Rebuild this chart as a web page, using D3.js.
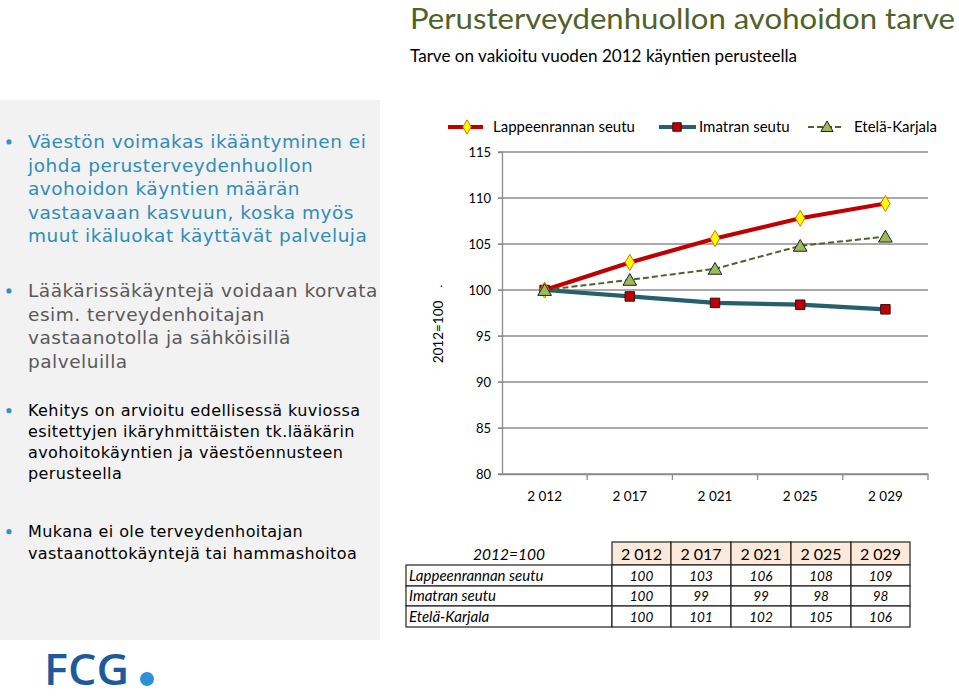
<!DOCTYPE html>
<html><head><meta charset="utf-8">
<script src="https://cdn.jsdelivr.net/npm/d3@7"></script>
<style>
html,body{margin:0;padding:0;background:#fff;}
svg{display:block;}
</style></head>
<body>
<svg id="c" width="959" height="697"></svg>
<script>
const categories = ["2 012", "2 017", "2 021", "2 025", "2 029"];
const lappeenranta = [100, 103.0, 105.6, 107.8, 109.4];
const imatra = [100, 99.3, 98.6, 98.4, 97.9];
const etelaKarjala = [100, 101.1, 102.3, 104.8, 105.8];
const seriesNames = ["Lappeenrannan seutu", "Imatran seutu", "Etelä-Karjala"];
const yTicks = [80, 85, 90, 95, 100, 105, 110, 115];
const yLabel = "2012=100";
const title = "Perusterveydenhuollon avohoidon tarve";
const subtitle = "Tarve on vakioitu vuoden 2012 käyntien perusteella";
const bullet1 = ["Väestön voimakas ikääntyminen ei", "johda perusterveydenhuollon", "avohoidon käyntien määrän", "vastaavaan kasvuun, koska myös", "muut ikäluokat käyttävät palveluja"];
const bullet2 = ["Lääkärissäkäyntejä voidaan korvata", "esim. terveydenhoitajan", "vastaanotolla ja sähköisillä", "palveluilla"];
const bullet3 = ["Kehitys on arvioitu edellisessä kuviossa", "esitettyjen ikäryhmittäisten tk.lääkärin", "avohoitokäyntien ja väestöennusteen", "perusteella"];
const bullet4 = ["Mukana ei ole terveydenhoitajan", "vastaanottokäyntejä tai hammashoitoa"];

const svg = d3.select("#c");
const CAL = "Lato, 'Open Sans', sans-serif";
const VER = "'DejaVu Sans', Verdana, sans-serif";

// Title
svg.append("text").attr("x", 410).attr("y", 29).attr("font-family", CAL).attr("font-size", 29)
  .attr("fill", "#4f6228").attr("textLength", 545).attr("lengthAdjust", "spacingAndGlyphs").text(title);
svg.append("text").attr("x", 410).attr("y", 62).attr("font-family", CAL).attr("font-size", 16.5)
  .attr("fill", "#000").attr("textLength", 387).attr("lengthAdjust", "spacingAndGlyphs").text(subtitle);

// Left panel
svg.append("rect").attr("x", 0).attr("y", 100).attr("width", 380).attr("height", 540).attr("fill", "#f2f2f2");
function bullet(lines, y0, lh, size, ls, color) {
  svg.append("circle").attr("cx", 9).attr("cy", y0 - size * 0.33).attr("r", 2.6).attr("fill", "#3a8fc4");
  svg.append("g").selectAll("text").data(lines).join("text")
    .attr("x", 28).attr("y", (d, i) => y0 + i * lh)
    .attr("font-family", VER).attr("font-size", size).attr("letter-spacing", ls).attr("fill", color).text(d => d);
}
bullet(bullet1, 148, 23.5, 18.5, 0.5, "#2f8db8");
bullet(bullet2, 297, 23.5, 18.5, 0.5, "#595959");
bullet(bullet3, 416, 21, 16, 0.4, "#000");
bullet(bullet4, 537, 21.5, 16, 0.4, "#000");

// FCG logo
svg.append("text").attr("x", 44).attr("y", 685).attr("font-family", "'Open Sans', sans-serif").attr("font-size", 44)
  .attr("font-weight", 600).attr("fill", "#1d5a9c").attr("textLength", 85).attr("lengthAdjust", "spacingAndGlyphs").text("FCG");
svg.append("circle").attr("cx", 147).attr("cy", 679).attr("r", 7).attr("fill", "#2b92d8");

// Chart
const x = d3.scaleBand().domain(categories).range([502, 928]);
const y = d3.scaleLinear().domain([80, 115]).range([474, 152]);
const g = svg.append("g");
g.append("g").selectAll("line").data(yTicks).join("line")
  .attr("x1", 498).attr("x2", 928).attr("y1", d => y(d)).attr("y2", d => y(d))
  .attr("stroke", "#8c8c8c").attr("stroke-width", 1.3);
const yAx = g.append("g").attr("transform", "translate(502,0)").call(d3.axisLeft(y).tickValues(yTicks).tickSize(4).tickPadding(7));
yAx.select(".domain").attr("stroke", "#8c8c8c").attr("stroke-width", 1.3);
yAx.selectAll(".tick line").attr("stroke", "#8c8c8c");
yAx.selectAll("text").attr("font-family", CAL).attr("font-size", 13).attr("fill", "#000");
const xAx = g.append("g").attr("transform", "translate(0,474)").call(d3.axisBottom(x).tickSize(0).tickPadding(17));
xAx.select(".domain").attr("stroke", "#8c8c8c").attr("stroke-width", 1.3);
xAx.selectAll("text").attr("font-family", CAL).attr("font-size", 13.5).attr("fill", "#000");
g.append("g").selectAll("line").data(categories.slice(1).concat(["end"])).join("line")
  .attr("x1", d => d === "end" ? 928 : x(d)).attr("x2", d => d === "end" ? 928 : x(d))
  .attr("y1", 474).attr("y2", 480).attr("stroke", "#8c8c8c").attr("stroke-width", 1.3);
svg.append("text").attr("transform", "translate(443,332) rotate(-90)").attr("text-anchor", "middle")
  .attr("font-family", CAL).attr("font-size", 13.5).text(yLabel);
svg.append("text").attr("x", 440).attr("y", 287).attr("font-family", CAL).attr("font-size", 12).text(".");

const cx = d => x(d) + x.bandwidth() / 2;
const line = d3.line().x((d, i) => cx(categories[i])).y(d => y(d));

const styles = [
  {data: lappeenranta, color: "#c00000", width: 4.2, dash: null, sym: d3.symbolDiamond, size: 75, fill: "#ffff00", mstroke: "#e46c0a"},
  {data: imatra, color: "#265f6e", width: 4.2, dash: null, sym: d3.symbolSquare, size: 90, fill: "#c00000", mstroke: "#3b1010"},
  {data: etelaKarjala, color: "#4f6228", width: 2, dash: "6,3", sym: d3.symbolTriangle, size: 80, fill: "#9bbb59", mstroke: "#222"}
];
[1, 0, 2].forEach(k => {
  const s = styles[k];
  g.append("path").datum(s.data).attr("d", line).attr("fill", "none").attr("stroke", s.color)
    .attr("stroke-width", s.width).attr("stroke-dasharray", s.dash);
});
[1, 0, 2].forEach(k => {
  const s = styles[k];
  g.append("g").selectAll("path").data(s.data).join("path")
    .attr("transform", (d, i) => `translate(${cx(categories[i])},${y(d) + (k === 2 ? 1.5 : 0)})`)
    .attr("d", d3.symbol(s.sym, s.size)).attr("fill", s.fill).attr("stroke", s.mstroke).attr("stroke-width", 1);
});

const legX = [[448, 483, 467, 493], [659, 696, 677, 699], [808, 844, 827, 854]];
styles.forEach((s, k) => {
  const [x1, x2, mx, tx] = legX[k];
  svg.append("line").attr("x1", x1).attr("x2", x2).attr("y1", 127).attr("y2", 127)
    .attr("stroke", s.color).attr("stroke-width", s.width).attr("stroke-dasharray", s.dash);
  svg.append("path").attr("transform", `translate(${mx},${127 + (k === 2 ? 1 : 0)})`)
    .attr("d", d3.symbol(s.sym, s.size * 0.8)).attr("fill", s.fill).attr("stroke", s.mstroke).attr("stroke-width", 1);
  svg.append("text").attr("x", tx).attr("y", 132).attr("font-family", CAL).attr("font-size", 15).text(seriesNames[k]);
});

const colX = [406, 612, 671, 731, 791, 851, 910];
const rowY = [542, 565, 586, 606, 627];
const tg = svg.append("g");
categories.forEach((c, i) => {
  tg.append("rect").attr("x", colX[i + 1]).attr("y", rowY[0]).attr("width", colX[i + 2] - colX[i + 1]).attr("height", rowY[1] - rowY[0])
    .attr("fill", "#fde9d9").attr("stroke", "#222").attr("stroke-width", 1.2);
  tg.append("text").attr("x", (colX[i + 1] + colX[i + 2]) / 2).attr("y", rowY[1] - 5).attr("text-anchor", "middle")
    .attr("font-family", CAL).attr("font-size", 16).text(c);
});
tg.append("text").attr("x", (colX[0] + colX[1]) / 2).attr("y", rowY[1] - 5).attr("text-anchor", "middle")
  .attr("font-family", CAL).attr("font-size", 15.5).attr("font-style", "italic").text(yLabel);
const rows = [lappeenranta, imatra, etelaKarjala];
rows.forEach((r, ri) => {
  const y0 = rowY[ri + 1], y1 = rowY[ri + 2];
  tg.append("rect").attr("x", colX[0]).attr("y", y0).attr("width", colX[1] - colX[0]).attr("height", y1 - y0)
    .attr("fill", "#fff").attr("stroke", "#222").attr("stroke-width", 1.2);
  tg.append("text").attr("x", colX[0] + 3).attr("y", y1 - 5).attr("font-family", CAL).attr("font-size", 15)
    .attr("font-style", "italic").text(seriesNames[ri]);
  r.forEach((v, ci) => {
    tg.append("rect").attr("x", colX[ci + 1]).attr("y", y0).attr("width", colX[ci + 2] - colX[ci + 1]).attr("height", y1 - y0)
      .attr("fill", "#fff").attr("stroke", "#222").attr("stroke-width", 1.2);
    tg.append("text").attr("x", (colX[ci + 1] + colX[ci + 2]) / 2).attr("y", y1 - 5).attr("text-anchor", "middle")
      .attr("font-family", CAL).attr("font-size", 13.5).attr("font-style", "italic").text(Math.round(v));
  });
});
</script>
</body></html>
